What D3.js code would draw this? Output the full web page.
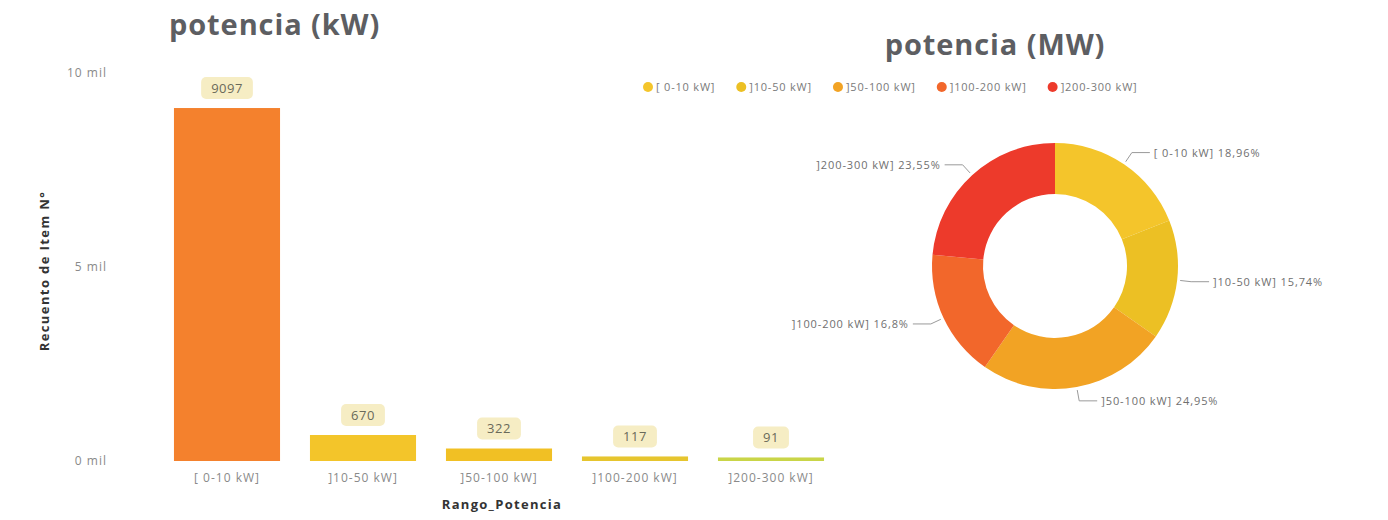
<!DOCTYPE html>
<html>
<head>
<meta charset="utf-8">
<script src="https://cdn.jsdelivr.net/npm/d3@7"></script>
<style>
  body { margin: 0; background: #fff; font-family: "Open Sans", "Noto Sans", sans-serif; }
  svg text { font-family: "Open Sans", "Noto Sans", sans-serif; }
</style>
</head>
<body>
<svg id="chart" width="1388" height="520"></svg>
<script>
// categories and values
var categories = ["[ 0-10 kW]", "]10-50 kW]", "]50-100 kW]", "]100-200 kW]", "]200-300 kW]"];
var counts = [9097, 670, 322, 117, 91];
var shares = [18.96, 15.74, 24.95, 16.8, 23.55];
var yTicks = [0, 5000, 10000];
var yTickLabels = ["0 mil", "5 mil", "10 mil"];
var barColors = ["#f4812d", "#f3c52a", "#f1c024", "#e6c52e", "#c9d548"];
var pieColors = ["#f4c52b", "#ecc024", "#f2a324", "#f2672b", "#ed3a2b"];

var svg = d3.select("#chart");

// ---- bar chart ----
svg.append("text")
  .attr("x", 169).attr("y", 35)
  .attr("font-size", 29).attr("font-weight", 700)
  .attr("letter-spacing", 0.9)
  .attr("fill", "#5d5e62")
  .text("potencia (kW)");

var x = d3.scaleBand()
  .domain(categories)
  .range([159, 839])
  .paddingInner(0.22)
  .paddingOuter(0.11);

var y = d3.scaleLinear()
  .domain([0, 10000])
  .range([461, 73]);

// y tick labels
svg.append("g").selectAll("text")
  .data(yTicks)
  .enter().append("text")
  .attr("x", 107)
  .attr("y", function(d) { return y(d) + 4; })
  .attr("text-anchor", "end")
  .attr("font-size", 12)
  .attr("letter-spacing", 1)
  .attr("fill", "#8a8a8a")
  .text(function(d, i) { return yTickLabels[i]; });

// y axis title
svg.append("text")
  .attr("transform", "translate(49,271) rotate(-90)")
  .attr("text-anchor", "middle")
  .attr("font-size", 13).attr("font-weight", 700)
  .attr("letter-spacing", 1.4)
  .attr("fill", "#333")
  .text("Recuento de Item N°");

// bars
svg.append("g").selectAll("rect")
  .data(counts)
  .enter().append("rect")
  .attr("x", function(d, i) { return x(categories[i]); })
  .attr("width", x.bandwidth())
  .attr("y", function(d) { return y(d); })
  .attr("height", function(d) { return Math.max(2, y(0) - y(d)); })
  .attr("fill", function(d, i) { return barColors[i]; });

// data labels with pale badges
var labels = svg.append("g").selectAll("g")
  .data(counts)
  .enter().append("g")
  .attr("transform", function(d, i) {
    return "translate(" + (x(categories[i]) + x.bandwidth() / 2) + "," + (Math.min(y(d), y(0) - 2) - 20) + ")";
  });

labels.append("text")
  .attr("text-anchor", "middle")
  .attr("y", 4.5)
  .attr("font-size", 13)
  .attr("letter-spacing", 0.5)
  .attr("fill", "#6a6a5a")
  .text(function(d) { return d; })
  .each(function() {
    var w = this.getComputedTextLength();
    d3.select(this.parentNode).insert("rect", "text")
      .attr("x", -w / 2 - 10).attr("y", -11)
      .attr("width", w + 20).attr("height", 22)
      .attr("rx", 5)
      .attr("fill", "#f6edc4");
  });

// x tick labels
svg.append("g").selectAll("text")
  .data(categories)
  .enter().append("text")
  .attr("x", function(d) { return x(d) + x.bandwidth() / 2; })
  .attr("y", 482)
  .attr("text-anchor", "middle")
  .attr("font-size", 12)
  .attr("letter-spacing", 1)
  .attr("fill", "#8a8a8a")
  .text(function(d) { return d; });

// x axis title
svg.append("text")
  .attr("x", 502).attr("y", 509)
  .attr("text-anchor", "middle")
  .attr("font-size", 13).attr("font-weight", 700)
  .attr("letter-spacing", 1.3)
  .attr("fill", "#333")
  .text("Rango_Potencia");

// ---- donut ----
svg.append("text")
  .attr("x", 995).attr("y", 55)
  .attr("text-anchor", "middle")
  .attr("font-size", 29).attr("font-weight", 700)
  .attr("letter-spacing", 0.9)
  .attr("fill", "#5d5e62")
  .text("potencia (MW)");

// legend
var legend = svg.append("g").attr("transform", "translate(648,87)");
var lx = 0;
categories.forEach(function(c, i) {
  legend.append("circle")
    .attr("cx", lx).attr("cy", 0).attr("r", 5)
    .attr("fill", pieColors[i]);
  var t = legend.append("text")
    .attr("x", lx + 8).attr("y", 4)
    .attr("font-size", 11)
    .attr("letter-spacing", 0.8)
    .attr("fill", "#7a7a7a")
    .text(c);
  lx += 8 + t.node().getComputedTextLength() + 26;
});

var cx = 1055, cy = 266, rOuter = 123, rInner = 72;
var pie = d3.pie().sort(null).value(function(d) { return d; });
var arc = d3.arc().innerRadius(rInner).outerRadius(rOuter);
var arcs = pie(shares);

var gPie = svg.append("g").attr("transform", "translate(" + cx + "," + cy + ")");

gPie.selectAll("path")
  .data(arcs)
  .enter().append("path")
  .attr("d", arc)
  .attr("fill", function(d, i) { return pieColors[i]; });

// leader lines and labels
var pctFormat = function(v) { return String(v).replace(".", ",") + "%"; };

arcs.forEach(function(d, i) {
  var a = (d.startAngle + d.endAngle) / 2;
  var sx = Math.sin(a), sy = -Math.cos(a);
  var p0 = [sx * (rOuter + 3), sy * (rOuter + 3)];
  var p1 = [sx * (rOuter + 14), sy * (rOuter + 14)];
  var right = sx >= 0;
  var p2 = [p1[0] + (right ? 18 : -18), p1[1]];
  gPie.append("path")
    .attr("d", d3.line()([p0, p1, p2]))
    .attr("fill", "none")
    .attr("stroke", "#9a9a9a")
    .attr("stroke-width", 1);
  gPie.append("text")
    .attr("x", p2[0] + (right ? 4 : -4))
    .attr("y", p2[1] + 4)
    .attr("text-anchor", right ? "start" : "end")
    .attr("font-size", 11)
    .attr("letter-spacing", 0.9)
    .attr("fill", "#6f6f6f")
    .text(categories[i] + " " + pctFormat(shares[i]));
});
</script>
</body>
</html>
